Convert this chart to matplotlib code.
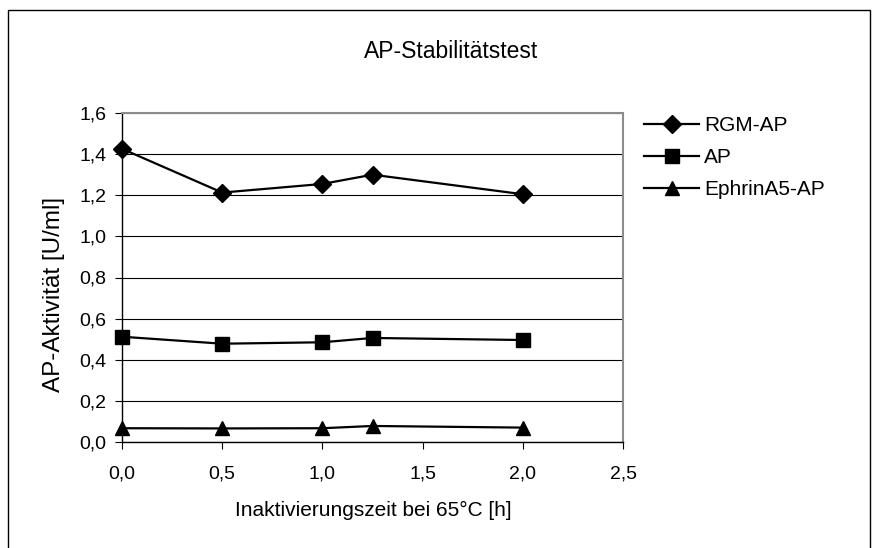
#!/usr/bin/env python3
"""AP-Stabilitätstest: AP-Aktivität nach Hitzeinaktivierung."""

import matplotlib
matplotlib.use("Agg")
import matplotlib.pyplot as plt
from matplotlib.patches import Rectangle
from matplotlib.ticker import FuncFormatter

zeit_h = [0.0, 0.5, 1.0, 1.25, 2.0]
rgm_ap = [1.426, 1.213, 1.255, 1.300, 1.205]
ap = [0.512, 0.478, 0.485, 0.506, 0.496]
ephrin_ap = [0.067, 0.066, 0.067, 0.078, 0.070]

x_ticks = [0.0, 0.5, 1.0, 1.5, 2.0, 2.5]
y_ticks = [0.0, 0.2, 0.4, 0.6, 0.8, 1.0, 1.2, 1.4, 1.6]

W, H = 880, 548
FS = 15


def comma(v, _pos):
    return f"{v:.1f}".replace(".", ",")


def main() -> None:
    plt.rcParams["font.family"] = ["Liberation Sans", "DejaVu Sans"]
    fig = plt.figure(figsize=(W / 100, H / 100), dpi=100)

    # outer chart border (bottom edge runs past the image)
    fig.patches.append(Rectangle((8 / W, -0.1), (870 - 8) / W, 1.1 - 10 / H,
                                 transform=fig.transFigure, fill=False,
                                 edgecolor="black", linewidth=1.0))

    ax = fig.add_axes([122 / W, 1 - 442 / H, (623 - 122) / W, (442 - 113) / H])

    ax.plot(zeit_h, rgm_ap, color="black", lw=1.6, marker="D", ms=9, label="RGM-AP", clip_on=False, zorder=3)
    ax.plot(zeit_h, ap, color="black", lw=1.6, marker="s", ms=10, label="AP", clip_on=False, zorder=3)
    ax.plot(zeit_h, ephrin_ap, color="black", lw=1.6, marker="^", ms=10.5, label="EphrinA5-AP", clip_on=False, zorder=3)

    ax.set_xlim(0, 2.5)
    ax.set_ylim(0, 1.6)
    ax.set_xticks(x_ticks)
    ax.set_yticks(y_ticks)
    ax.xaxis.set_major_formatter(FuncFormatter(comma))
    ax.yaxis.set_major_formatter(FuncFormatter(comma))
    ax.tick_params(direction="out", length=5, width=0.8, labelsize=14, colors="black")
    ax.tick_params(axis="x", pad=12)
    ax.tick_params(axis="y", pad=6)
    ax.yaxis.grid(True, color="black", linewidth=0.8)
    ax.set_axisbelow(True)

    for side in ("top", "right"):
        ax.spines[side].set_color("#8c8c8c")
        ax.spines[side].set_linewidth(1.5)
    ax.spines["left"].set_linewidth(1.0)
    ax.spines["bottom"].set_linewidth(1.0)

    fig.text(451 / W, 1 - 52 / H, "AP-Stabilitätstest", ha="center", va="center", fontsize=16.5)
    fig.text(373 / W, 1 - 510 / H, "Inaktivierungszeit bei 65°C [h]", ha="center", va="center", fontsize=FS)
    fig.text(54 / W, 1 - 294 / H, "AP-Aktivität [U/ml]", ha="center", va="center", rotation=90, fontsize=17.5)

    fig.legend(loc="upper left", bbox_to_anchor=(644 / W, 1 - 116 / H), frameon=False,
               fontsize=FS, handlelength=2.65, handletextpad=0.25, labelspacing=0.62,
               borderaxespad=0, borderpad=0)

    fig.savefig("out.png", dpi=100)
    plt.close(fig)


if __name__ == "__main__":
    main()
